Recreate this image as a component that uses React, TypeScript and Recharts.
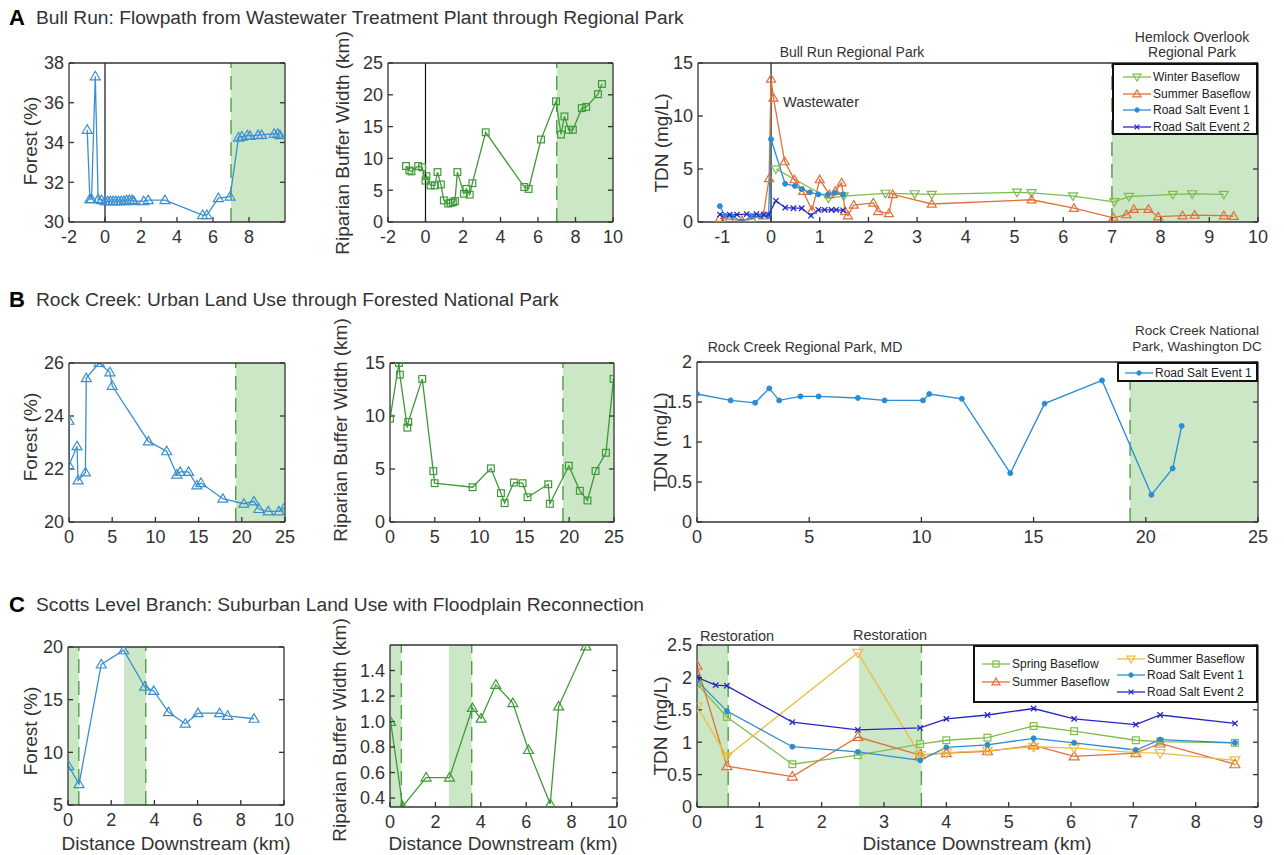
import React from 'react';
import { LineChart, Line, XAxis, YAxis, ReferenceArea, ReferenceLine } from 'recharts';

const FONT = '"Liberation Sans", Arial, Helvetica, sans-serif';
const INK = '#333';
const SHADE = '#cbe7c5';
const DASH = '#4f9e44';

const FOREST_BLUE = '#3a8fd0';
const BUFFER_GREEN = '#3f9a38';
const WINTER = '#7dbd4c';
const SUMMER = '#e0703a';
const SUMMER_Y = '#efbd3a';
const SALT1 = '#2a8dd4';
const SALT2 = '#2626c8';

// ---- A: Bull Run ----
const bullForestKm = [-0.99, -0.84, -0.75, -0.54, -0.38, -0.19, 0, 0.15, 0.3, 0.45, 0.6, 0.75, 0.9, 1.05, 1.2, 1.35, 1.5, 1.6, 2.15, 2.4, 3.33, 5.42, 5.66, 6.3, 6.95, 7.42, 7.6, 7.9, 8.05, 8.5, 8.7, 9.4, 9.6, 9.72];
const bullForestPct = [34.64, 31.15, 31.15, 37.33, 31.15, 31.1, 31.05, 31.05, 31.05, 31.05, 31.05, 31.05, 31.05, 31.05, 31.1, 31.1, 31.1, 31.05, 31.05, 31.1, 31.1, 30.35, 30.35, 31.2, 31.28, 34.25, 34.3, 34.35, 34.33, 34.37, 34.38, 34.44, 34.44, 34.37];

const bullBufferKm = [-1.04, -0.86, -0.75, -0.39, -0.18, 0, 0.05, 0.27, 0.5, 0.64, 0.82, 0.98, 1.21, 1.34, 1.46, 1.57, 1.7, 2.05, 2.18, 2.36, 2.5, 3.21, 5.27, 5.5, 6.16, 6.96, 7.23, 7.41, 7.64, 7.86, 8.34, 8.57, 9.2, 9.41];
const bullBufferWidth = [8.8, 8.1, 7.95, 8.8, 8.6, 6.5, 7.2, 5.75, 5.75, 7.85, 5.9, 3.4, 2.9, 3.0, 3.1, 3.3, 7.85, 4.45, 5.2, 4.3, 6.1, 14.1, 5.5, 5.2, 12.97, 18.98, 13.76, 16.6, 14.5, 14.5, 17.9, 18.1, 20.1, 21.7];

const bullWinterKm = [0.1, 1.18, 1.49, 2.35, 2.95, 3.3, 5.05, 5.35, 6.2, 7.05, 7.35, 8.25, 8.65, 9.3];
const bullWinterTdn = [5.0, 2.25, 2.45, 2.7, 2.65, 2.6, 2.8, 2.75, 2.45, 1.9, 2.4, 2.6, 2.65, 2.6];

const bullSummerKm = [-1.05, -0.85, -0.6, -0.4, -0.16, -0.04, 0, 0.05, 0.28, 0.48, 0.66, 0.84, 1.0, 1.2, 1.32, 1.45, 1.52, 1.58, 1.7, 2.1, 2.2, 2.42, 2.5, 3.3, 5.35, 6.22, 7.03, 7.3, 7.45, 7.75, 7.95, 8.45, 8.7, 9.3, 9.5];
const bullSummerTdn = [0.35, 0.25, 0.15, 0.3, 0.6, 4.1, 13.5, 11.7, 5.7, 4.0, 2.9, 1.1, 4.0, 2.6, 2.9, 3.7, 1.0, 0.6, 1.6, 1.8, 1.0, 0.8, 2.6, 1.7, 2.1, 1.3, 0.4, 0.7, 1.2, 1.2, 0.5, 0.6, 0.65, 0.6, 0.55];

const bullSalt1Km = [-1.05, -0.95, -0.8, -0.6, -0.4, -0.2, -0.05, 0, 0.29, 0.49, 0.63, 0.8, 0.97, 1.17, 1.31, 1.48];
const bullSalt1Tdn = [1.5, 0.6, 0.55, 0.05, 0.5, 0.55, 0.55, 7.8, 3.6, 3.4, 3.1, 2.8, 2.6, 2.6, 2.75, 2.6];

const bullSalt2Km = [-1.05, -0.85, -0.7, -0.5, -0.3, -0.15, -0.05, 0.1, 0.29, 0.46, 0.63, 0.82, 0.97, 1.1, 1.24, 1.34, 1.48];
const bullSalt2Tdn = [0.7, 0.7, 0.7, 0.75, 0.75, 0.7, 0.7, 2.0, 1.35, 1.3, 1.3, 0.6, 1.15, 1.15, 1.15, 1.15, 1.1];

// ---- B: Rock Creek ----
const rockForestKm = [0, 0, 0.93, 1.05, 1.9, 2.0, 3.49, 4.73, 5.0, 9.19, 11.3, 12.48, 12.87, 13.84, 14.8, 15.27, 17.8, 20.23, 21.4, 21.98, 23.06, 24.3, 24.95];
const rockForestPct = [23.82, 22.14, 22.86, 21.57, 21.87, 25.43, 26.0, 25.65, 25.14, 23.04, 22.67, 21.79, 21.89, 21.89, 21.38, 21.47, 20.88, 20.69, 20.78, 20.49, 20.4, 20.4, 20.55];

const rockBufferKm = [0, 1.0, 1.1, 1.93, 2.04, 3.6, 4.83, 4.98, 9.22, 11.26, 12.38, 12.79, 13.83, 14.8, 15.35, 17.66, 17.84, 19.96, 21.19, 22.04, 22.94, 24.1, 24.95];
const rockBufferWidth = [9.75, 15.0, 13.9, 8.9, 9.44, 13.5, 4.8, 3.66, 3.28, 5.06, 2.72, 1.78, 3.72, 3.66, 2.34, 3.56, 1.72, 5.31, 2.94, 2.03, 4.81, 6.53, 13.5];

const rockSalt1Km = [0, 1.5, 2.59, 3.22, 3.66, 4.61, 5.42, 7.17, 8.36, 10.07, 10.35, 11.8, 13.96, 15.49, 18.05, 20.25, 21.2, 21.6];
const rockSalt1Tdn = [1.6, 1.52, 1.49, 1.67, 1.52, 1.57, 1.57, 1.55, 1.52, 1.52, 1.6, 1.54, 0.61, 1.48, 1.77, 0.34, 0.67, 1.2];

// ---- C: Scotts Level Branch ----
const scottsForestKm = [0.03, 0.51, 1.54, 2.58, 3.55, 3.97, 4.65, 5.43, 6.02, 7.02, 7.39, 8.61];
const scottsForestPct = [8.7, 6.98, 18.34, 19.69, 16.23, 15.83, 13.82, 12.72, 13.72, 13.72, 13.47, 13.19];

const scottsBufferKm = [0.03, 0.56, 1.59, 2.62, 3.63, 4.01, 4.66, 5.41, 6.1, 7.06, 7.43, 8.63];
const scottsBufferWidth = [0.997, 0.335, 0.561, 0.561, 1.106, 1.023, 1.288, 1.145, 0.777, 0.353, 1.119, 1.589];

const scottsStationsKm = [0, 0.48, 1.53, 2.58, 3.58, 4.0, 4.66, 5.4, 6.05, 7.04, 7.43, 8.63];
const scottsSpringTdn = [1.9, 1.39, 0.66, 0.8, 0.97, 1.03, 1.07, 1.25, 1.17, 1.03, 1.01, 0.99];
const scottsSummerTdn = [2.18, 0.63, 0.47, 1.08, 0.8, 0.83, 0.86, 0.95, 0.78, 0.83, 0.98, 0.66];
const scottsSummer2Km = [0, 0.48, 2.58, 3.58, 4.0, 4.66, 5.4, 6.05, 7.04, 7.43, 8.63];
const scottsSummer2Tdn = [1.55, 0.78, 2.38, 0.8, 0.84, 0.87, 0.93, 0.91, 0.84, 0.83, 0.72];
const scottsSalt1Tdn = [1.95, 1.48, 0.93, 0.85, 0.72, 0.92, 0.96, 1.06, 0.99, 0.88, 1.04, 0.99];
const scottsSalt2Km = [0, 0.3, 0.48, 1.53, 2.58, 3.58, 4.0, 4.66, 5.4, 6.05, 7.04, 7.43, 8.63];
const scottsSalt2Tdn = [2.0, 1.88, 1.87, 1.31, 1.19, 1.22, 1.36, 1.42, 1.52, 1.36, 1.27, 1.42, 1.29];

const restorationKm: [number, number][] = [[0, 0.5], [2.6, 3.6]];

type Pt = { x: number; y: number };
const zip = (xs: number[], ys: number[]): Pt[] => xs.map((x, i) => ({ x, y: ys[i] }));

type Marker = 'up' | 'down' | 'square' | 'dot' | 'cross';
type Series = { name: string; data: Pt[]; color: string; marker: Marker; size: number };

function drawMarker(kind: Marker, cx: number, cy: number, color: string, r: number, key?: any) {
  if (cx == null || cy == null || Number.isNaN(cx) || Number.isNaN(cy)) return <g key={key} />;
  if (kind === 'up') {
    return <polygon key={key} points={`${cx},${cy - r} ${cx - r},${cy + r * 0.7} ${cx + r},${cy + r * 0.7}`} fill="none" stroke={color} strokeWidth={1.2} />;
  }
  if (kind === 'down') {
    return <polygon key={key} points={`${cx},${cy + r} ${cx - r},${cy - r * 0.7} ${cx + r},${cy - r * 0.7}`} fill="none" stroke={color} strokeWidth={1.2} />;
  }
  if (kind === 'square') {
    return <rect key={key} x={cx - r * 0.75} y={cy - r * 0.75} width={r * 1.5} height={r * 1.5} fill="none" stroke={color} strokeWidth={1.2} />;
  }
  if (kind === 'dot') {
    return <circle key={key} cx={cx} cy={cy} r={r * 0.55} fill={color} stroke={color} />;
  }
  return (
    <g key={key} stroke={color} strokeWidth={1.3}>
      <line x1={cx - r * 0.6} y1={cy - r * 0.6} x2={cx + r * 0.6} y2={cy + r * 0.6} />
      <line x1={cx - r * 0.6} y1={cy + r * 0.6} x2={cx + r * 0.6} y2={cy - r * 0.6} />
    </g>
  );
}

// mirrored top / right axes only carry tick marks, no labels
const noLabel = () => <g />;

const YW = 60;
const XH = 34;
const MT = 12;
const MR = 14;

type PanelProps = {
  left: number; top: number; width: number; height: number;
  xDomain: [number, number]; xTicks: number[];
  yDomain: [number, number]; yTicks: number[]; yFormat?: (v: number) => string;
  shades?: [number, number][]; dashes?: number[]; zeroLine?: boolean;
  series: Series[];
};

function Panel(p: PanelProps) {
  const tickStyle = { fill: INK, fontSize: 18, fontFamily: FONT };
  return (
    <div style={{ position: 'absolute', left: p.left - YW, top: p.top - MT - 1 }}>
      <LineChart width={YW + p.width + 1 + MR} height={MT + 1 + p.height + XH} margin={{ top: MT, right: MR, bottom: 0, left: 0 }}>
        <XAxis xAxisId={0} dataKey="x" type="number" domain={p.xDomain} ticks={p.xTicks} allowDataOverflow interval={0}
          height={XH} tickSize={-5} tickMargin={13} stroke={INK} strokeWidth={1.3} tick={tickStyle} />
        <XAxis xAxisId="top" orientation="top" type="number" domain={p.xDomain} ticks={p.xTicks} allowDataOverflow interval={0}
          height={1} tickSize={-5} tick={noLabel} stroke={INK} strokeWidth={1.3} />
        <YAxis yAxisId={0} type="number" domain={p.yDomain} ticks={p.yTicks} allowDataOverflow interval={0}
          width={YW} tickSize={-5} tickMargin={10} stroke={INK} strokeWidth={1.3} tick={tickStyle} tickFormatter={p.yFormat} />
        <YAxis yAxisId="right" orientation="right" type="number" domain={p.yDomain} ticks={p.yTicks} allowDataOverflow interval={0}
          width={1} tickSize={-5} tick={noLabel} stroke={INK} strokeWidth={1.3} />
        {(p.shades || []).map(([a, b], i) => (
          <ReferenceArea key={`s${i}`} x1={a} x2={b} fill={SHADE} fillOpacity={1} stroke="none" />
        ))}
        {(p.dashes || []).map((d, i) => (
          <ReferenceLine key={`d${i}`} x={d} stroke={DASH} strokeWidth={1.4} strokeDasharray="14 8" />
        ))}
        {p.zeroLine && <ReferenceLine x={0} stroke="#111" strokeWidth={1.2} />}
        {p.series.map((s) => (
          <Line key={s.name + s.color} data={s.data} dataKey="y" type="linear" stroke={s.color} strokeWidth={1.3}
            isAnimationActive={false} activeDot={false}
            dot={(d: any) => drawMarker(s.marker, d.cx, d.cy, s.color, s.size, d.index)} />
        ))}
      </LineChart>
    </div>
  );
}

function Text({ x, y, children, size = 14, weight = 400, color = INK, anchor = 'middle' }: any) {
  const tx = anchor === 'middle' ? '-50%' : '0';
  return (
    <div style={{ position: 'absolute', left: x, top: y, transform: `translate(${tx}, -50%)`, fontSize: size, fontWeight: weight, color, whiteSpace: 'nowrap', lineHeight: 1 }}>
      {children}
    </div>
  );
}

function VLabel({ x, y, children }: any) {
  return (
    <div style={{ position: 'absolute', left: x, top: y, transform: 'translate(-50%, -50%) rotate(-90deg)', fontSize: 19, color: INK, whiteSpace: 'nowrap', lineHeight: 1 }}>
      {children}
    </div>
  );
}

function LegendBox({ left, top, width, height, items }: { left: number; top: number; width: number; height: number; items: { s: Series; x: number; y: number }[] }) {
  return (
    <div style={{ position: 'absolute', left, top, width, height, boxSizing: 'border-box', border: '2px solid #111', background: '#fff' }}>
      {items.map(({ s, x, y }) => (
        <div key={s.name + s.color} style={{ position: 'absolute', left: x, top: y - 8, height: 16, display: 'flex', alignItems: 'center', whiteSpace: 'nowrap' }}>
          <svg width={30} height={14}>
            <line x1={1} x2={29} y1={7} y2={7} stroke={s.color} strokeWidth={1.3} />
            {drawMarker(s.marker, 15, 7, s.color, Math.min(s.size, 4))}
          </svg>
          <span style={{ fontSize: 12, color: '#222', marginLeft: 1 }}>{s.name}</span>
        </div>
      ))}
    </div>
  );
}

export default function App() {
  const bullTdn: Series[] = [
    { name: 'Winter Baseflow', data: zip(bullWinterKm, bullWinterTdn), color: WINTER, marker: 'down', size: 4.5 },
    { name: 'Summer Baseflow', data: zip(bullSummerKm, bullSummerTdn), color: SUMMER, marker: 'up', size: 4.5 },
    { name: 'Road Salt Event 1', data: zip(bullSalt1Km, bullSalt1Tdn), color: SALT1, marker: 'dot', size: 4.5 },
    { name: 'Road Salt Event 2', data: zip(bullSalt2Km, bullSalt2Tdn), color: SALT2, marker: 'cross', size: 4.5 },
  ];
  const rockTdn: Series[] = [
    { name: 'Road Salt Event 1', data: zip(rockSalt1Km, rockSalt1Tdn), color: SALT1, marker: 'dot', size: 4.5 },
  ];
  const scottsTdn: Series[] = [
    { name: 'Spring Baseflow', data: zip(scottsStationsKm, scottsSpringTdn), color: WINTER, marker: 'square', size: 4.5 },
    { name: 'Summer Baseflow', data: zip(scottsStationsKm, scottsSummerTdn), color: SUMMER, marker: 'up', size: 5 },
    { name: 'Summer Baseflow', data: zip(scottsSummer2Km, scottsSummer2Tdn), color: SUMMER_Y, marker: 'down', size: 5 },
    { name: 'Road Salt Event 1', data: zip(scottsStationsKm, scottsSalt1Tdn), color: SALT1, marker: 'dot', size: 4.5 },
    { name: 'Road Salt Event 2', data: zip(scottsSalt2Km, scottsSalt2Tdn), color: SALT2, marker: 'cross', size: 4.5 },
  ];

  return (
    <div style={{ position: 'absolute', left: 0, top: 0, width: 1284, height: 855, background: '#fff', fontFamily: FONT, overflow: 'hidden' }}>
      {/* Row titles */}
      <Text x={17} y={18} size={22} weight={700} color="#000">A</Text>
      <Text x={36} y={18} size={19.2} anchor="start">Bull Run: Flowpath from Wastewater Treatment Plant through Regional Park</Text>
      <Text x={17} y={300} size={22} weight={700} color="#000">B</Text>
      <Text x={36} y={300} size={19.2} anchor="start">Rock Creek: Urban Land Use through Forested National Park</Text>
      <Text x={17} y={605} size={22} weight={700} color="#000">C</Text>
      <Text x={36} y={605} size={19.2} anchor="start">Scotts Level Branch: Suburban Land Use with Floodplain Reconnection</Text>

      {/* Row A */}
      <Panel left={69} top={63} width={216} height={159} xDomain={[-2, 10]} xTicks={[-2, 0, 2, 4, 6, 8]}
        yDomain={[30, 38]} yTicks={[30, 32, 34, 36, 38]} shades={[[7, 10]]} dashes={[7]} zeroLine
        series={[{ name: 'Forest', data: zip(bullForestKm, bullForestPct), color: FOREST_BLUE, marker: 'up', size: 5 }]} />
      <Panel left={388} top={63} width={225} height={159} xDomain={[-2, 10]} xTicks={[-2, 0, 2, 4, 6, 8, 10]}
        yDomain={[0, 25]} yTicks={[0, 5, 10, 15, 20, 25]} shades={[[7, 10]]} dashes={[7]} zeroLine
        series={[{ name: 'Buffer', data: zip(bullBufferKm, bullBufferWidth), color: BUFFER_GREEN, marker: 'square', size: 4.5 }]} />
      <Panel left={698} top={63} width={560} height={159} xDomain={[-1.5, 10]} xTicks={[-1, 0, 1, 2, 3, 4, 5, 6, 7, 8, 9, 10]}
        yDomain={[0, 15]} yTicks={[0, 5, 10, 15]} shades={[[7, 10]]} dashes={[7]} zeroLine series={bullTdn} />
      <LegendBox left={1112} top={63} width={146} height={72}
        items={bullTdn.map((s, i) => ({ s, x: 8, y: 12 + i * 16.5 }))} />
      <VLabel x={30} y={141}>Forest (%)</VLabel>
      <VLabel x={342} y={143}>Riparian Buffer Width (km)</VLabel>
      <VLabel x={661} y={143}>TDN (mg/L)</VLabel>
      <Text x={852} y={52}>Bull Run Regional Park</Text>
      <Text x={1192} y={37}>Hemlock Overlook</Text>
      <Text x={1192} y={52}>Regional Park</Text>
      <Text x={821} y={102} size={14.5}>Wastewater</Text>

      {/* Row B */}
      <Panel left={69} top={363} width={216} height={159} xDomain={[0, 25]} xTicks={[0, 5, 10, 15, 20, 25]}
        yDomain={[20, 26]} yTicks={[20, 22, 24, 26]} shades={[[19.3, 25]]} dashes={[19.3]}
        series={[{ name: 'Forest', data: zip(rockForestKm, rockForestPct), color: FOREST_BLUE, marker: 'up', size: 5 }]} />
      <Panel left={390} top={363} width={224} height={159} xDomain={[0, 25]} xTicks={[0, 5, 10, 15, 20, 25]}
        yDomain={[0, 15]} yTicks={[0, 5, 10, 15]} shades={[[19.3, 25]]} dashes={[19.3]}
        series={[{ name: 'Buffer', data: zip(rockBufferKm, rockBufferWidth), color: BUFFER_GREEN, marker: 'square', size: 4.5 }]} />
      <Panel left={697} top={362} width={561} height={160} xDomain={[0, 25]} xTicks={[0, 5, 10, 15, 20, 25]}
        yDomain={[0, 2]} yTicks={[0, 0.5, 1, 1.5, 2]} shades={[[19.3, 25]]} dashes={[19.3]} series={rockTdn} />
      <LegendBox left={1117} top={362} width={141} height={20} items={[{ s: rockTdn[0], x: 5, y: 9 }]} />
      <VLabel x={30} y={437}>Forest (%)</VLabel>
      <VLabel x={340} y={430}>Riparian Buffer Width (km)</VLabel>
      <VLabel x={660} y={442}>TDN (mg/L)</VLabel>
      <Text x={805} y={347}>Rock Creek Regional Park, MD</Text>
      <Text x={1197} y={331} size={13.5}>Rock Creek National</Text>
      <Text x={1197} y={347} size={13.5}>Park, Washington DC</Text>

      {/* Row C */}
      <Panel left={68} top={647} width={216} height={158} xDomain={[0, 10]} xTicks={[0, 2, 4, 6, 8, 10]}
        yDomain={[5, 20]} yTicks={[5, 10, 15, 20]} shades={restorationKm} dashes={[0.5, 3.6]}
        series={[{ name: 'Forest', data: zip(scottsForestKm, scottsForestPct), color: FOREST_BLUE, marker: 'up', size: 5 }]} />
      <Panel left={390} top={645} width={227} height={162} xDomain={[0, 10]} xTicks={[0, 2, 4, 6, 8, 10]}
        yDomain={[0.33, 1.6]} yTicks={[0.4, 0.6, 0.8, 1.0, 1.2, 1.4]} yFormat={(v: number) => v.toFixed(1)}
        shades={restorationKm} dashes={[0.5, 3.6]}
        series={[{ name: 'Buffer', data: zip(scottsBufferKm, scottsBufferWidth), color: BUFFER_GREEN, marker: 'up', size: 5 }]} />
      <Panel left={697} top={645} width={561} height={162} xDomain={[0, 9]} xTicks={[0, 1, 2, 3, 4, 5, 6, 7, 8, 9]}
        yDomain={[0, 2.5]} yTicks={[0, 0.5, 1, 1.5, 2, 2.5]} shades={restorationKm} dashes={[0.5, 3.6]} series={scottsTdn} />
      <LegendBox left={973} top={645} width={285} height={58}
        items={[
          { s: scottsTdn[0], x: 6, y: 17 },
          { s: scottsTdn[1], x: 6, y: 35 },
          { s: scottsTdn[2], x: 141, y: 12 },
          { s: scottsTdn[3], x: 141, y: 28 },
          { s: scottsTdn[4], x: 141, y: 45 },
        ]} />
      <VLabel x={30} y={731}>Forest (%)</VLabel>
      <VLabel x={339} y={730}>Riparian Buffer Width (km)</VLabel>
      <VLabel x={660} y={726}>TDN (mg/L)</VLabel>
      <Text x={737} y={636} size={14.5}>Restoration</Text>
      <Text x={890} y={635} size={14.5}>Restoration</Text>
      <Text x={176} y={843} size={19}>Distance Downstream (km)</Text>
      <Text x={503} y={843} size={19}>Distance Downstream (km)</Text>
      <Text x={977} y={843} size={19}>Distance Downstream (km)</Text>
    </div>
  );
}
